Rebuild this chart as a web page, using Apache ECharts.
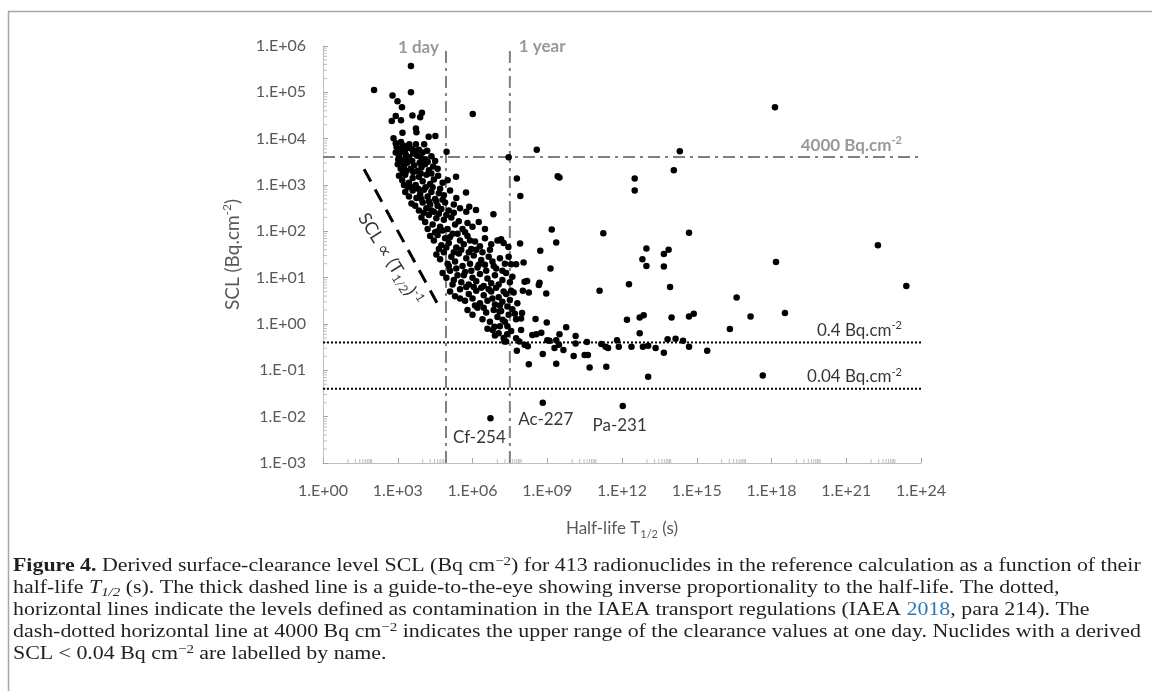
<!DOCTYPE html>
<html><head><meta charset="utf-8">
<script src="https://cdn.jsdelivr.net/npm/echarts@6/dist/echarts.min.js"></script>
<style>html,body{margin:0;padding:0;background:#fff}#c{width:1152px;height:691px}</style>
</head><body><div id="c"></div>
<script>
// ---- data (log10 of half-life in s, log10 of SCL in Bq/cm2) ----
const clusterLog10 = [
[2.05,5.05],[3.53,5.57],[3.53,5.00],[2.79,4.93],[2.99,4.81],[3.17,4.68],[2.92,4.49],[2.76,4.38],[3.13,4.40],[3.59,4.50],[3.97,4.56],[3.90,4.46],[3.73,4.22],[3.75,4.14],[4.24,4.04],[4.51,4.06],[3.19,4.13],[2.83,4.01],[2.92,3.90],[3.13,3.93],[3.46,3.88],[3.73,3.88],[4.06,3.88],[4.96,3.72],[3.30,3.76],
[2.92,3.70],[3.05,3.62],[3.18,3.72],[3.32,3.66],[3.45,3.60],[3.62,3.68],[3.78,3.63],[3.95,3.58],[4.10,3.55],[4.35,3.62],
[2.95,3.82],[3.08,3.78],[3.22,3.85],[3.38,3.80],[3.55,3.78],[3.68,3.74],[3.85,3.76],[4.00,3.70],[4.18,3.74],[3.02,3.55],[3.28,3.55],[3.58,3.52],[3.88,3.48],[4.20,3.50],[4.50,3.52],
[3.00,3.45],[3.12,3.50],[3.25,3.40],[3.38,3.48],[3.52,3.35],[3.66,3.42],[3.80,3.30],[3.95,3.38],[4.10,3.45],[4.25,3.32],[4.42,3.40],[3.20,3.30],[4.60,3.35],
[3.12,3.35],[3.35,3.30],[3.62,3.28],[3.92,3.25],[4.35,3.25],[3.25,3.00],[3.55,2.95],[3.82,2.92],[4.12,2.95],[4.40,2.95],[4.70,2.92],[3.95,2.70],[4.25,2.65],[4.55,2.65],[4.80,2.68],
[3.05,3.20],[3.18,3.10],[3.30,3.22],[3.45,3.05],[3.60,3.15],[3.72,3.00],[3.85,3.18],[4.00,3.08],[4.15,3.22],[4.30,3.02],[4.45,3.12],[4.62,3.20],[4.80,3.05],[5.00,3.10],[3.40,2.95],
[3.30,2.85],[3.45,2.75],[3.60,2.88],[3.75,2.72],[3.90,2.80],[4.05,2.90],[4.20,2.75],[4.35,2.85],[4.50,2.70],[4.65,2.82],[4.85,2.78],[5.10,2.88],[5.35,2.72],[3.55,2.60],
[3.70,2.55],[3.85,2.45],[4.00,2.62],[4.15,2.50],[4.30,2.58],[4.45,2.42],[4.60,2.55],[4.75,2.48],[4.90,2.62],[5.05,2.45],[5.25,2.58],[5.50,2.50],[5.75,2.42],
[4.05,2.40],[4.35,2.45],[4.65,2.38],[4.95,2.35],[5.25,2.40],
[3.95,2.30],[4.10,2.20],[4.25,2.35],[4.40,2.15],[4.55,2.28],[4.70,2.10],[4.85,2.25],[5.00,2.05],[5.15,2.30],[5.30,2.15],[5.45,2.22],[5.60,2.05],[5.80,2.18],[6.00,2.10],[6.25,2.20],[6.50,2.05],[4.60,2.00],
[4.20,2.05],[4.50,1.98],[4.80,2.02],[5.10,1.88],[5.40,1.95],[5.70,1.98],[5.90,1.80],
[4.30,1.90],[4.45,1.80],[4.60,1.92],[4.75,1.70],[4.90,1.85],[5.05,1.75],[5.20,1.95],[5.35,1.65],[5.50,1.80],[5.65,1.72],[5.80,1.90],[5.95,1.62],[6.10,1.78],[6.30,1.68],[6.50,1.85],[6.75,1.72],[7.00,1.80],[7.25,1.75],
[4.65,1.62],[4.95,1.65],[5.25,1.55],[5.55,1.60],[5.85,1.55],[6.15,1.60],[6.40,1.55],[6.70,1.60],
[4.55,1.50],[4.70,1.40],[4.85,1.55],[5.00,1.30],[5.15,1.45],[5.30,1.35],[5.45,1.52],[5.60,1.25],[5.75,1.42],[5.90,1.30],[6.05,1.48],[6.20,1.22],[6.35,1.38],[6.50,1.28],[6.65,1.45],[6.80,1.35],[6.95,1.20],[7.10,1.42],[7.30,1.30],[7.45,1.45],
[5.05,1.25],[5.35,1.20],[5.65,1.05],[5.95,1.15],[6.25,1.28],[6.55,1.15],[6.85,1.25],[7.20,1.15],
[4.80,1.10],[4.95,1.00],[5.10,1.15],[5.25,0.95],[5.40,1.05],[5.55,0.90],[5.70,1.12],[5.85,0.85],[6.00,1.00],[6.15,0.92],[6.30,1.08],[6.45,0.82],[6.60,0.98],[6.75,0.88],[6.90,1.05],[7.05,0.85],[7.20,0.95],[7.35,1.10],[7.50,0.90],[7.60,1.02],
[5.20,0.85],[5.50,0.55],[5.75,0.80],[6.05,0.80],[6.35,0.78],[6.65,0.75],[6.95,0.78],[7.25,0.70],[7.55,0.72],
[5.10,0.70],[5.30,0.60],[5.50,0.75],[5.70,0.50],[5.85,0.65],[6.00,0.55],[6.15,0.72],[6.30,0.45],[6.45,0.62],[6.60,0.50],[6.75,0.70],[6.90,0.42],[7.05,0.58],[7.20,0.48],[7.35,0.65],[7.50,0.52],[7.65,0.68],[7.80,0.45],
[6.10,0.40],[6.45,0.35],[6.80,0.55],[7.10,0.40],[7.40,0.38],[7.70,0.22],
[5.80,0.30],[6.00,0.20],[6.20,0.35],[6.40,0.10],[6.55,0.25],[6.70,0.05],[6.85,0.30],[7.00,0.15],[7.15,0.28],[7.30,0.05],[7.45,0.20],[7.60,0.32],[7.75,0.10],
[6.60,-0.10],[6.90,-0.25],[7.10,-0.05],[7.25,-0.30],[7.55,-0.15],[7.05,-0.20],[7.40,-0.05],
[5.34,3.18],[5.74,2.84],[5.87,2.53],[6.14,2.46],[6.84,2.37]
];
const longLivedLog10 = [
[6.01,4.53],[7.45,3.60],[8.58,3.76],[7.78,3.14],[7.92,2.76],[9.42,3.19],[9.49,3.16],[12.51,3.14],[12.51,2.88],[14.08,3.32],[14.32,3.73],[18.14,4.68],
[9.18,2.04],[9.36,1.76],[7.91,1.74],[7.15,1.83],[7.44,1.66],[11.25,1.96],[14.69,1.97],[22.27,1.70],[8.72,1.58],[12.98,1.63],[12.82,1.40],[12.98,1.25],[13.87,1.60],[13.68,1.51],[13.68,1.24],[18.18,1.34],[7.08,1.81],
[7.55,1.29],[7.75,1.29],[8.05,1.33],[9.13,1.20],[8.19,0.93],[8.69,0.89],[8.66,0.84],[8.02,0.72],[8.26,0.68],[8.96,0.66],[12.28,0.86],[11.10,0.72],[13.93,0.80],[23.41,0.82],[16.60,0.57],
[7.99,0.24],[7.95,0.12],[8.53,0.11],[8.98,0.03],[12.87,0.19],[12.71,0.14],[12.20,0.09],[13.99,0.14],[14.69,0.16],[14.88,0.22],[17.16,0.16],[18.54,0.24],[16.33,-0.11],
[9.76,-0.07],[9.49,-0.22],[10.14,-0.26],[12.71,-0.20],[7.95,-0.13],[8.40,-0.24],[8.56,-0.22],[8.76,-0.19],[9.00,-0.35],[9.09,-0.36],[9.36,-0.35],[7.39,-0.22],[7.28,-0.38],[7.75,-0.31],[7.88,-0.38],[8.09,-0.45],[8.22,-0.48],[7.78,-0.58],[9.29,-0.52],[9.47,-0.45],[9.65,-0.56],[10.14,-0.42],[10.59,-0.39],[11.17,-0.43],[11.34,-0.49],[11.44,-0.52],[11.80,-0.35],[11.87,-0.49],[12.38,-0.49],[12.84,-0.49],[13.05,-0.47],[13.35,-0.52],[13.68,-0.62],[13.83,-0.33],[14.15,-0.32],[14.45,-0.36],[14.69,-0.49],[15.42,-0.58],
[8.82,-0.65],[10.06,-0.69],[10.50,-0.67],[10.63,-0.67],[8.26,-0.87],[9.36,-0.86],[10.70,-0.94],[11.37,-0.92],[13.05,-1.14],[17.65,-1.11],
[7.35,-0.38],[8.09,0.91],[6.81,-0.13],[6.88,-0.06],[7.21,0.09],[7.08,0.27]
];
const labelledNames = ['Cf-254','Ac-227','Pa-231'];
const labelledHalfLife = [5.25e6, 6.6e8, 1.07e12];
const labelledSCL = [0.0092, 0.020, 0.017];
const labelledOffset = [[-11,19],[3,17],[-3,20]];

const oneDay = 86400, oneYear = 3.156e7;
const upperClearance = 4000;
const contaminationLevels = [0.4, 0.04];
const guideLine = [[44.6, 2183], [54200, 2.0]];
const xRange = [1, 1e24], yRange = [1e-3, 1e6];

// ---- chart ----
const FONT = 'Lato';
const GRAY = '#595959';
const toVal = p => [Math.pow(10, p[0]), Math.pow(10, p[1])];
const expLabel = v => { const e = Math.round(Math.log10(v)); return '1.E' + (e < 0 ? '-' : '+') + String(Math.abs(e)).padStart(2, '0'); };

const minorTicks = [];
for (let e = 0; e < 24; e += 3) for (let m = 1; m <= 9; m++) minorTicks.push([m * Math.pow(10, e + 1), 1e-3, 0]);
for (let e = -3; e < 6; e++) for (let m = 2; m <= 9; m++) minorTicks.push([1, m * Math.pow(10, e), 1]);

const annoBase = {fontFamily: FONT, fontSize: 17};
const supRich = c => ({sup: {fontSize: 11, verticalAlign: 'top', color: c, fontFamily: FONT, lineHeight: 20}});

const captionLines = [
  '{b|Figure 4.} Derived surface-clearance level SCL (Bq cm{sup|−2}) for 413 radionuclides in the reference calculation as a function of their',
  'half-life {i|T}{isub|1/2} (s). The thick dashed line is a guide-to-the-eye showing inverse proportionality to the half-life. The dotted,',
  'horizontal lines indicate the levels defined as contamination in the IAEA transport regulations (IAEA {link|2018}, para 214). The',
  'dash-dotted horizontal line at 4000 Bq cm{sup|−2} indicates the upper range of the clearance values at one day. Nuclides with a derived',
  'SCL < 0.04 Bq cm{sup|−2} are labelled by name.'
];

const chart = echarts.init(document.getElementById('c'), null, {renderer: 'canvas'});
chart.setOption({
  animation: false,
  backgroundColor: '#fff',
  grid: {left: 323, top: 46, width: 598, height: 417},
  xAxis: {
    type: 'log', logBase: 1000, min: xRange[0], max: xRange[1], splitNumber: 8,
    axisLine: {lineStyle: {color: '#bfbfbf', width: 1}},
    axisTick: {show: true, inside: true, length: 5, lineStyle: {color: '#a6a6a6'}},
    splitLine: {show: false}, minorTick: {show: false},
    axisLabel: {formatter: expLabel, color: GRAY, fontFamily: FONT, fontSize: 16, margin: 20},
    name: 'Half-life T{sub|1/2} (s)', nameLocation: 'middle', nameGap: 55,
    nameTextStyle: {color: GRAY, fontFamily: FONT, fontSize: 17, lineHeight: 22,
      rich: {sub: {fontSize: 11, verticalAlign: 'bottom', color: GRAY, fontFamily: FONT, lineHeight: 22}}}
  },
  yAxis: {
    type: 'log', logBase: 10, min: yRange[0], max: yRange[1], splitNumber: 9,
    axisLine: {show: true, lineStyle: {color: '#bfbfbf', width: 1}},
    axisTick: {show: true, inside: true, length: 5, lineStyle: {color: '#a6a6a6'}},
    splitLine: {show: false}, minorTick: {show: false},
    axisLabel: {formatter: expLabel, color: GRAY, fontFamily: FONT, fontSize: 16, margin: 17},
    name: 'SCL (Bq.cm{sup|-2})', nameLocation: 'middle', nameGap: 68,
    nameTextStyle: {color: GRAY, fontFamily: FONT, fontSize: 19, lineHeight: 24,
      rich: {sup: {fontSize: 12, verticalAlign: 'top', color: GRAY, fontFamily: FONT, lineHeight: 24}}}
  },
  graphic: [
    {type: 'rect', shape: {x: 8.5, y: 11.5, width: 1300, height: 900}, style: {fill: 'none', stroke: '#a6a6a6', lineWidth: 1.5}, silent: true, z: -1},
    ...captionLines.map((t, i) => ({
      type: 'text', x: 13, y: 566 + i * 22, scaleX: 1.152, silent: true,
      style: {
        text: t, fill: '#231f20', font: '19px "Liberation Serif"', verticalAlign: 'middle', lineHeight: 22,
        rich: {
          b: {fontWeight: 'bold', fontFamily: 'Liberation Serif', fontSize: 19, fill: '#231f20'},
          i: {fontStyle: 'italic', fontFamily: 'Liberation Serif', fontSize: 19, fill: '#231f20'},
          isub: {fontStyle: 'italic', fontFamily: 'Liberation Serif', fontSize: 13, verticalAlign: 'bottom', fill: '#231f20', lineHeight: 22},
          sup: {fontFamily: 'Liberation Serif', fontSize: 13, verticalAlign: 'top', fill: '#231f20', lineHeight: 22},
          link: {fontFamily: 'Liberation Serif', fontSize: 19, fill: '#2a7ab8'}
        }
      }
    }))
  ],
  series: [
    {type: 'custom', silent: true, z: 1, data: minorTicks,
      renderItem: (params, api) => {
        const p = api.coord([api.value(0), api.value(1)]);
        const isY = api.value(2) === 1;
        return {type: 'line', shape: isY ? {x1: p[0], y1: p[1], x2: p[0] + 4, y2: p[1]} : {x1: p[0], y1: p[1], x2: p[0], y2: p[1] - 4},
          style: {stroke: '#bfbfbf', lineWidth: 1}};
      }},
    {type: 'line', symbol: 'none', silent: true, z: 2, data: [[oneDay, yRange[0]], [oneDay, yRange[1]]],
      lineStyle: {color: '#808080', width: 2, type: [12, 5, 3, 5]}},
    {type: 'line', symbol: 'none', silent: true, z: 2, data: [[oneYear, yRange[0]], [oneYear, yRange[1]]],
      lineStyle: {color: '#808080', width: 2, type: [12, 5, 3, 5]}},
    {type: 'line', symbol: 'none', silent: true, z: 2, data: [[xRange[0], upperClearance], [xRange[1], upperClearance]],
      lineStyle: {color: '#808080', width: 2, type: [12, 5, 3, 5]}},
    ...contaminationLevels.map(l => ({type: 'line', symbol: 'none', silent: true, z: 2, data: [[xRange[0], l], [xRange[1], l]],
      lineStyle: {color: '#000', width: 2, type: [2, 2]}})),
    {type: 'line', symbol: 'none', silent: true, z: 2, data: guideLine, lineStyle: {color: '#000', width: 3, type: [14, 9]}},
    {type: 'scatter', symbol: 'circle', symbolSize: 6.5, z: 4, itemStyle: {color: '#000', opacity: 1},
      data: clusterLog10.concat(longLivedLog10).map(toVal).concat(labelledHalfLife.map((h, i) => [h, labelledSCL[i]]))},
    {type: 'scatter', symbolSize: 0.1, silent: true, z: 5, itemStyle: {color: 'transparent'},
      data: labelledNames.map((n, i) => ({value: [labelledHalfLife[i], labelledSCL[i]],
        label: {show: true, formatter: n, position: labelledOffset[i], align: 'center', verticalAlign: 'middle', color: '#000', ...annoBase}}))
        .concat([
          {value: [oneDay, yRange[1]], label: {show: true, formatter: '1 day', position: [-7, 2], align: 'right', verticalAlign: 'middle', color: '#7f7f7f', fontWeight: 'bold', ...annoBase}},
          {value: [oneYear, yRange[1]], label: {show: true, formatter: '1 year', position: [9, 1], align: 'left', verticalAlign: 'middle', color: '#7f7f7f', fontWeight: 'bold', ...annoBase}},
          {value: [xRange[1], upperClearance], label: {show: true, formatter: '4000 Bq.cm{sup|-2}', position: [-19, -12], align: 'right', verticalAlign: 'middle', color: '#7f7f7f', fontWeight: 'bold', ...annoBase, rich: supRich('#7f7f7f')}},
          {value: [xRange[1], contaminationLevels[0]], label: {show: true, formatter: '0.4 Bq.cm{sup|-2}', position: [-19, -12], align: 'right', verticalAlign: 'middle', color: '#000', ...annoBase, rich: supRich('#000')}},
          {value: [xRange[1], contaminationLevels[1]], label: {show: true, formatter: '0.04 Bq.cm{sup|-2}', position: [-19, -12], align: 'right', verticalAlign: 'middle', color: '#000', ...annoBase, rich: supRich('#000')}},
          {value: [495, 25.3], label: {show: true, formatter: 'SCL ∝ (T{sub|1/2}){sup|-1}', position: [0, 0], align: 'center', verticalAlign: 'middle', rotate: -58, color: '#000', fontFamily: FONT, fontSize: 18, lineHeight: 22,
            rich: {sub: {fontSize: 12, verticalAlign: 'bottom', color: '#000', fontFamily: FONT, lineHeight: 22}, sup: {fontSize: 12, verticalAlign: 'top', color: '#000', fontFamily: FONT, lineHeight: 22}}}}
        ])}
  ]
});
</script></body></html>
